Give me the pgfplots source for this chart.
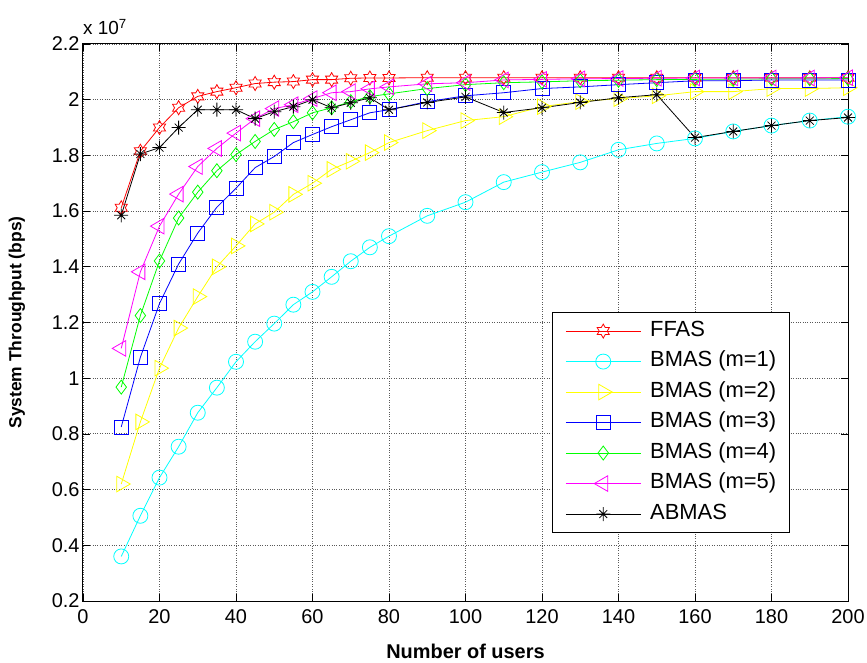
\documentclass[border=0pt]{standalone}
\usepackage{fontspec}
\setmainfont{Liberation Sans}
\usepackage{pgfplots}
\pgfplotsset{compat=1.18}

\definecolor{mred}{rgb}{1,0,0}
\definecolor{mcyan}{rgb}{0,1,1}
\definecolor{myellow}{rgb}{1,1,0}
\definecolor{mblue}{rgb}{0,0,1}
\definecolor{mgreen}{rgb}{0,1,0}
\definecolor{mmagenta}{rgb}{1,0,1}

% MATLAB-like marks that pgf lacks
\pgfdeclareplotmark{hexagram}{%
  \pgfpathmoveto{\pgfpointpolar{90}{\pgfplotmarksize}}%
  \pgfpathlineto{\pgfpointpolar{120}{0.577*\pgfplotmarksize}}%
  \pgfpathlineto{\pgfpointpolar{150}{\pgfplotmarksize}}%
  \pgfpathlineto{\pgfpointpolar{180}{0.577*\pgfplotmarksize}}%
  \pgfpathlineto{\pgfpointpolar{210}{\pgfplotmarksize}}%
  \pgfpathlineto{\pgfpointpolar{240}{0.577*\pgfplotmarksize}}%
  \pgfpathlineto{\pgfpointpolar{270}{\pgfplotmarksize}}%
  \pgfpathlineto{\pgfpointpolar{300}{0.577*\pgfplotmarksize}}%
  \pgfpathlineto{\pgfpointpolar{330}{\pgfplotmarksize}}%
  \pgfpathlineto{\pgfpointpolar{0}{0.577*\pgfplotmarksize}}%
  \pgfpathlineto{\pgfpointpolar{30}{\pgfplotmarksize}}%
  \pgfpathlineto{\pgfpointpolar{60}{0.577*\pgfplotmarksize}}%
  \pgfpathclose
  \pgfusepathqstroke}
\pgfdeclareplotmark{star8}{%
  \pgfpathmoveto{\pgfpointpolar{0}{\pgfplotmarksize}}\pgfpathlineto{\pgfpointpolar{180}{\pgfplotmarksize}}%
  \pgfpathmoveto{\pgfpointpolar{90}{\pgfplotmarksize}}\pgfpathlineto{\pgfpointpolar{270}{\pgfplotmarksize}}%
  \pgfpathmoveto{\pgfpointpolar{45}{0.8*\pgfplotmarksize}}\pgfpathlineto{\pgfpointpolar{225}{0.8*\pgfplotmarksize}}%
  \pgfpathmoveto{\pgfpointpolar{135}{0.8*\pgfplotmarksize}}\pgfpathlineto{\pgfpointpolar{315}{0.8*\pgfplotmarksize}}%
  \pgfusepathqstroke}

\begin{document}
\begin{tikzpicture}
\begin{axis}[name=ax, at={(0,0)}, anchor=south west,
  width=765bp, height=557bp, scale only axis,
  xmin=0, xmax=200, ymin=0.2, ymax=2.2,
  xtick={0,20,...,200},
  ytick={0.2,0.4,0.6,0.8,1,1.2,1.4,1.6,1.8,2,2.2},
  grid=major, major grid style={dotted, black!65, line width=0.8bp},
  tick align=inside, major tick length=7bp,
  axis line style={line width=1bp},
  every tick/.style={black, line width=0.6bp},
  tick label style={font=\fontsize{20}{20}\selectfont},
  xticklabel style={yshift=-5bp},
  /pgf/number format/assume math mode=true,
  xlabel={Number of users},
  ylabel={System Throughput (bps)},
  xlabel style={at={([yshift=-50bp]axis description cs:0.5,0)}, anchor=center,
    font=\bfseries\fontsize{20}{20}\selectfont},
  ylabel style={at={([xshift=-66bp]axis description cs:0,0.5)}, anchor=center,
    font=\bfseries\fontsize{17.5}{17.5}\selectfont},
  every axis plot/.append style={line width=0.8bp, mark options={solid, line width=0.8bp}},
  legend image code/.code={\draw[mark repeat=2,mark phase=2,#1] plot coordinates {(0bp,0bp) (37.5bp,0bp) (75bp,0bp)};},
  legend cell align=left,
  legend style={at={(0.613,0.519)}, anchor=north west, draw=black, line width=0.8bp,
    font=\fontsize{22}{23}\selectfont, inner xsep=13bp, inner ysep=9bp,
    row sep=11bp, column sep=9bp,
    nodes={inner sep=0bp, text height=15bp, text depth=4.5bp}},
]
\addplot[mred, mark=hexagram, mark size=7bp] coordinates {
(10,1.612) (15,1.815) (20,1.900) (25,1.971) (30,2.012) (35,2.029) (40,2.043)
(45,2.058) (50,2.063) (55,2.065) (60,2.072) (65,2.072) (70,2.077) (75,2.078)
(80,2.078) (90,2.079) (100,2.079) (110,2.079) (120,2.079) (130,2.079) (140,2.079)
(150,2.079) (160,2.079) (170,2.079) (180,2.079) (190,2.079) (200,2.079)};
\addlegendentry{FFAS}
\addplot[mcyan, mark=o, mark size=7.5bp] coordinates {
(10,0.360) (15,0.506) (20,0.643) (25,0.754) (30,0.876) (35,0.966) (40,1.059)
(45,1.131) (50,1.196) (55,1.264) (60,1.310) (65,1.364) (70,1.420) (75,1.470)
(80,1.510) (90,1.583) (100,1.632) (110,1.704) (120,1.740) (130,1.775) (140,1.820)
(150,1.843) (160,1.861) (170,1.886) (180,1.907) (190,1.925) (200,1.939)};
\addlegendentry{BMAS (m=1)}
\addplot[myellow, mark=triangle, mark size=9bp, mark options={rotate=-90}] coordinates {
(10,0.620) (15,0.843) (20,1.036) (25,1.180) (30,1.293) (35,1.400) (40,1.475)
(45,1.554) (50,1.596) (55,1.660) (60,1.700) (65,1.750) (70,1.779) (75,1.810)
(80,1.846) (90,1.889) (100,1.925) (110,1.939) (120,1.975) (130,1.993) (140,2.004)
(150,2.014) (160,2.029) (170,2.029) (180,2.040) (190,2.040) (200,2.043)};
\addlegendentry{BMAS (m=2)}
\addplot[mblue, mark=square, mark size=7bp] coordinates {
(10,0.825) (15,1.075) (20,1.268) (25,1.410) (30,1.521) (35,1.614) (40,1.682)
(45,1.756) (50,1.796) (55,1.846) (60,1.875) (65,1.903) (70,1.928) (75,1.953)
(80,1.964) (90,1.993) (100,2.014) (110,2.025) (120,2.040) (130,2.046) (140,2.054)
(150,2.061) (160,2.068) (170,2.068) (180,2.071) (190,2.071) (200,2.071)};
\addlegendentry{BMAS (m=3)}
\addplot[mgreen, mark=diamond, mark size=7bp] coordinates {
(10,0.968) (15,1.225) (20,1.421) (25,1.575) (30,1.668) (35,1.745) (40,1.803)
(45,1.850) (50,1.893) (55,1.921) (60,1.953) (65,1.971) (70,1.993) (75,2.011)
(80,2.021) (90,2.040) (100,2.054) (110,2.061) (120,2.064) (130,2.068) (140,2.070)
(150,2.072) (160,2.073) (170,2.074) (180,2.075) (190,2.075) (200,2.076)};
\addlegendentry{BMAS (m=4)}
\addplot[mmagenta, mark=triangle, mark size=9bp, mark options={rotate=90}] coordinates {
(10,1.107) (15,1.382) (20,1.546) (25,1.661) (30,1.760) (35,1.825) (40,1.880)
(45,1.932) (50,1.968) (55,1.982) (60,2.004) (65,2.025) (70,2.029) (75,2.039)
(80,2.046) (90,2.057) (100,2.061) (110,2.071) (120,2.073) (130,2.075) (140,2.076)
(150,2.077) (160,2.078) (170,2.078) (180,2.078) (190,2.078) (200,2.079)};
\addlegendentry{BMAS (m=5)}
\addplot[black, mark=star8, mark size=7bp] coordinates {
(10,1.585) (15,1.805) (20,1.828) (25,1.900) (30,1.964) (35,1.964) (40,1.964)
(45,1.932) (50,1.957) (55,1.975) (60,2.000) (65,1.971) (70,1.989) (75,2.007)
(80,1.964) (90,1.990) (100,2.010) (110,1.954) (120,1.971) (130,1.990) (140,2.007)
(150,2.018) (160,1.864) (170,1.886) (180,1.907) (190,1.925) (200,1.936)};
\addlegendentry{ABMAS}
\end{axis}
\node[anchor=base west, inner sep=0pt, font=\fontsize{19}{19}\selectfont]
  at ([yshift=9bp]ax.north west) {x 10\textsuperscript{7}};
\pgfresetboundingbox
\path (ax.south west) ++(-83bp,-62bp) rectangle ++(867bp,663bp);
\end{tikzpicture}
\end{document}
